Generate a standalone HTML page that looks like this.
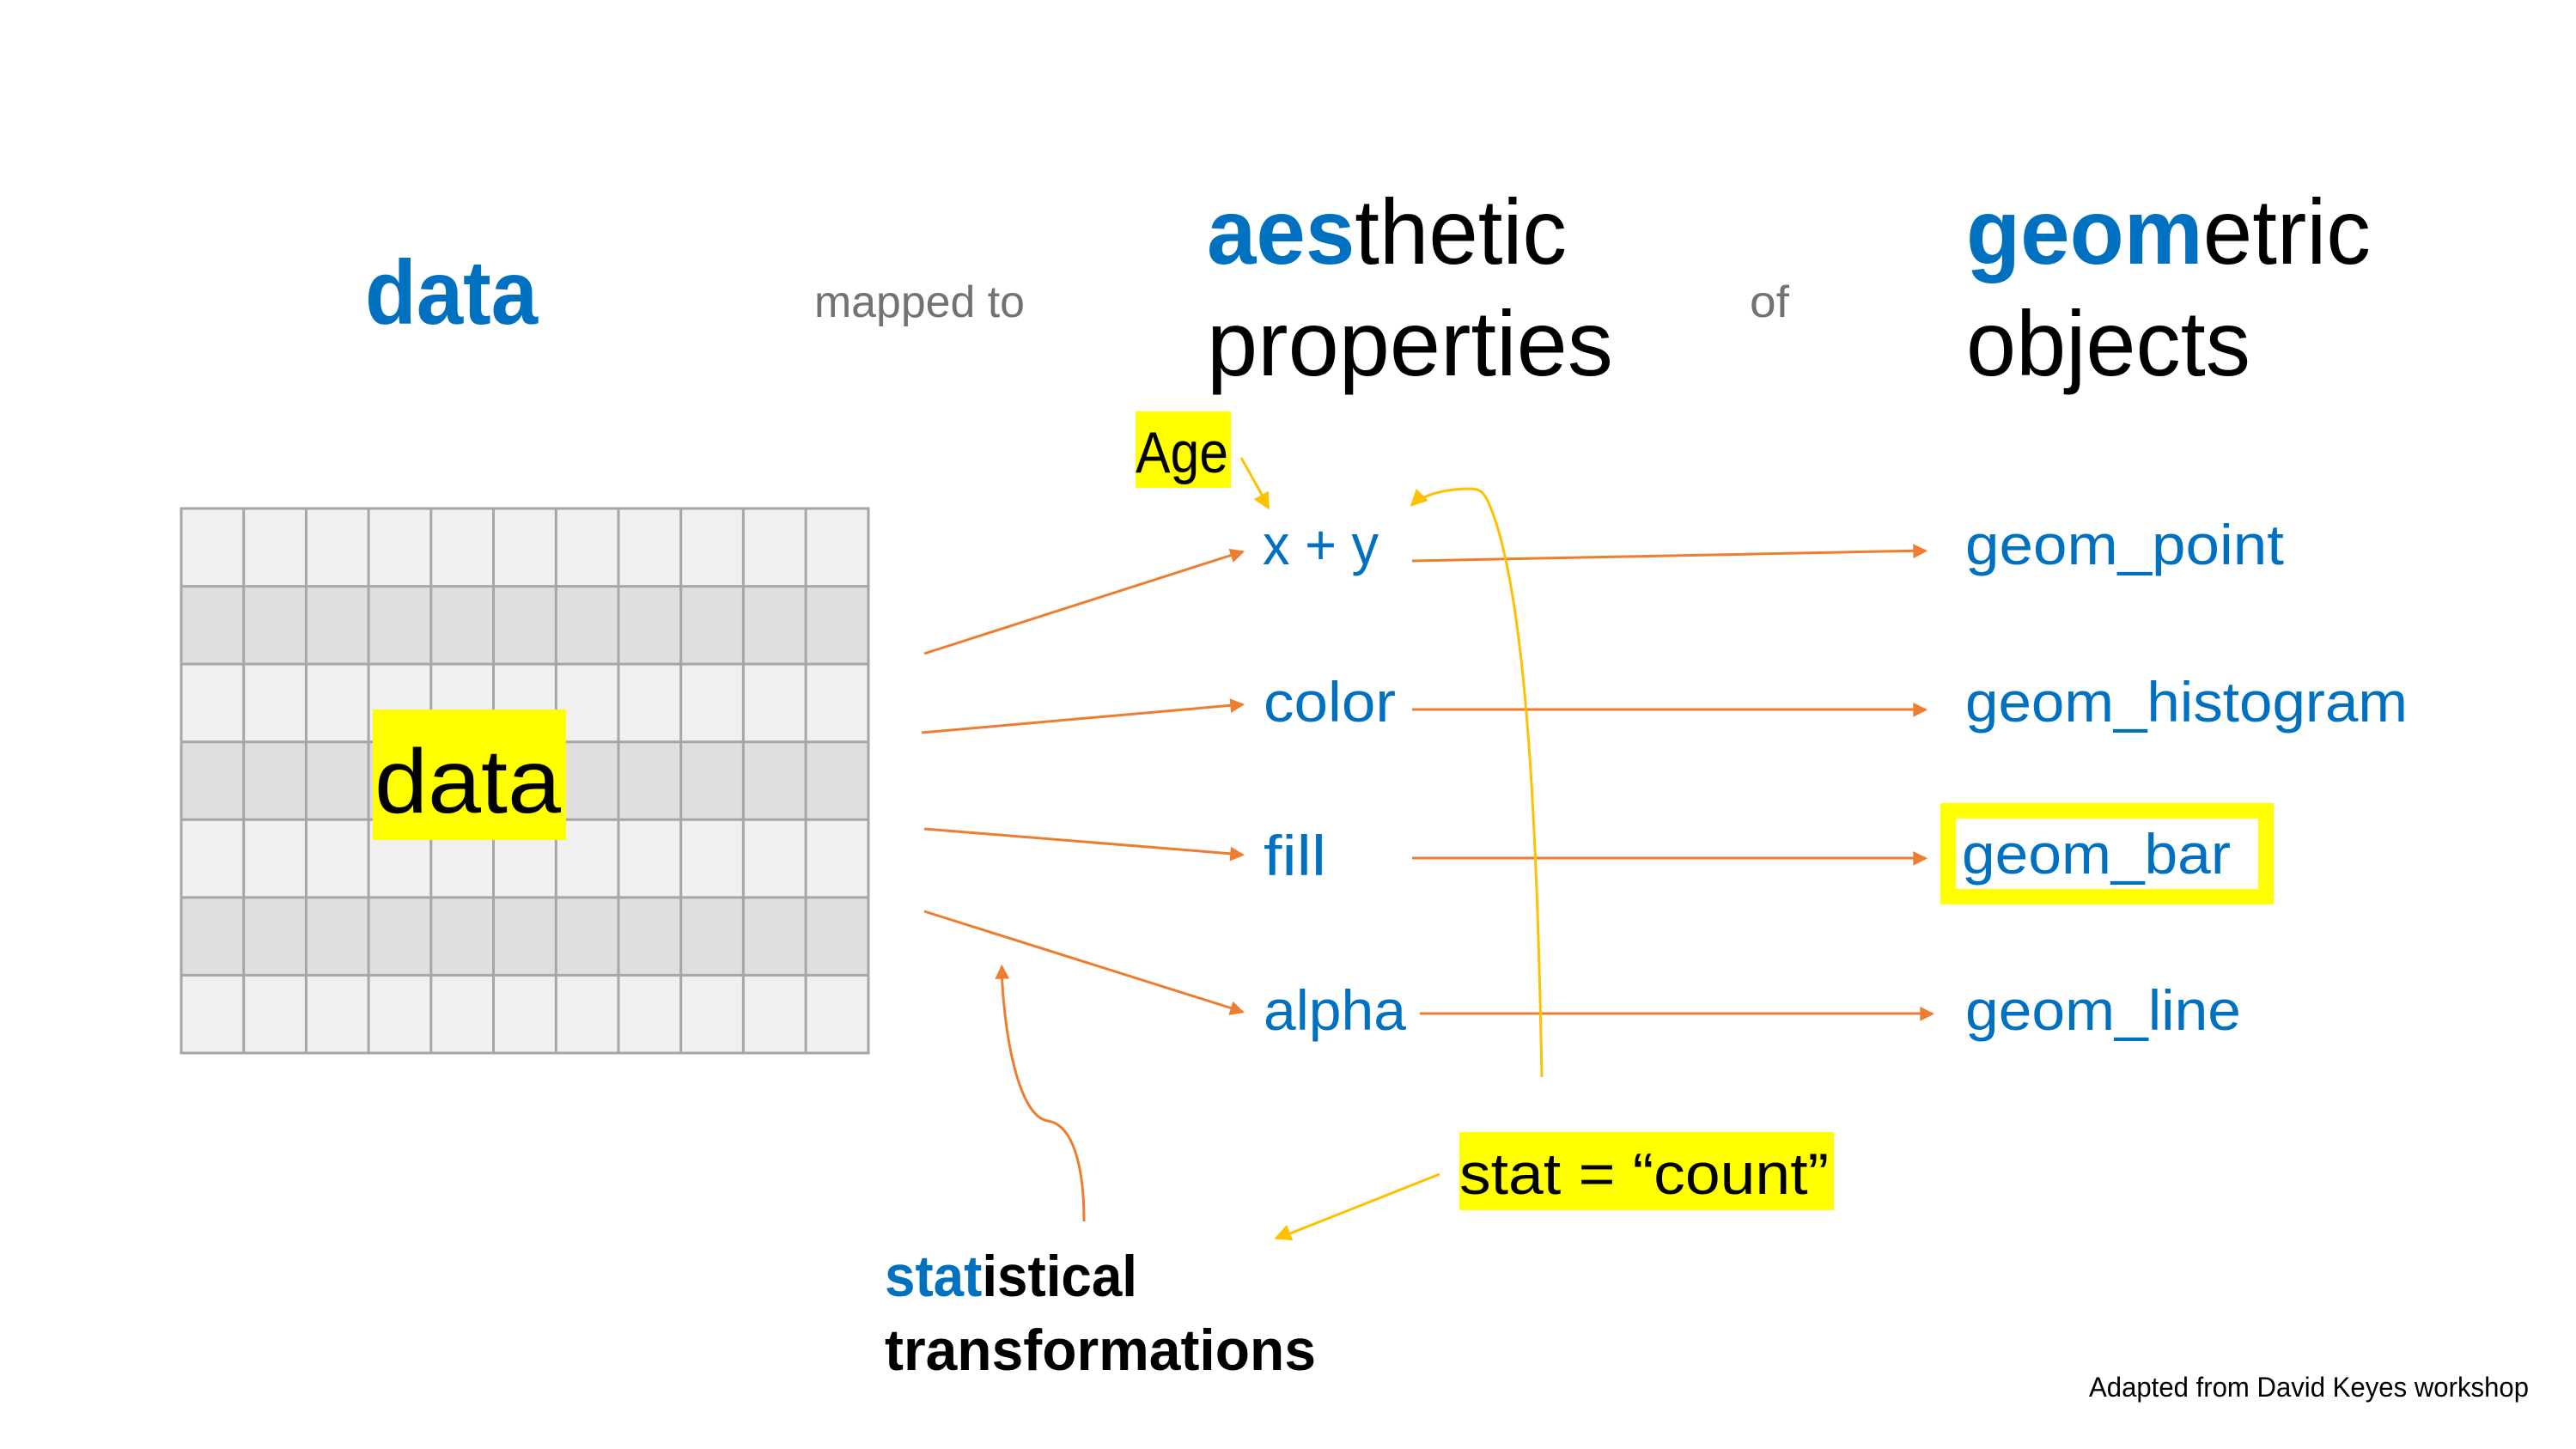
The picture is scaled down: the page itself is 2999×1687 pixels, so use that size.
<!DOCTYPE html>
<html><head><meta charset="utf-8"><style>
html,body{margin:0;padding:0;background:#fff}
svg{display:block}
text{font-family:"Liberation Sans",sans-serif}
</style></head><body>
<svg width="2999" height="1687" viewBox="0 0 2999 1687" xmlns="http://www.w3.org/2000/svg">
<defs>
<marker id="ao" viewBox="0 0 10 10" refX="9" refY="5" markerWidth="7" markerHeight="7" orient="auto" markerUnits="userSpaceOnUse" style="overflow:visible">
<path d="M0,0 L10,5 L0,10 z" fill="#ED7D31" transform="scale(2.4) translate(-5,-2.7)"/></marker>
<marker id="ay" viewBox="0 0 10 10" refX="9" refY="5" markerWidth="7" markerHeight="7" orient="auto" markerUnits="userSpaceOnUse" style="overflow:visible">
<path d="M0,0 L10,5 L0,10 z" fill="#FFC000" transform="scale(2.8) translate(-5,-2.7)"/></marker>
</defs>

<text x="425" y="377" font-size="106" font-weight="bold" fill="#0070C0" textLength="201" lengthAdjust="spacingAndGlyphs">data</text>
<text x="948" y="369" font-size="52" fill="#767171" textLength="245" lengthAdjust="spacingAndGlyphs">mapped to</text>
<text x="1405" y="307" font-size="108" textLength="419" lengthAdjust="spacingAndGlyphs"><tspan font-weight="bold" fill="#0070C0">aes</tspan><tspan fill="#000">thetic</tspan></text>
<text x="1405" y="437" font-size="108" fill="#000" textLength="473" lengthAdjust="spacingAndGlyphs">properties</text>
<text x="2037" y="369" font-size="52" fill="#767171" textLength="46" lengthAdjust="spacingAndGlyphs">of</text>
<text x="2289" y="307" font-size="108" textLength="471" lengthAdjust="spacingAndGlyphs"><tspan font-weight="bold" fill="#0070C0">geom</tspan><tspan fill="#000">etric</tspan></text>
<text x="2289" y="437" font-size="108" fill="#000" textLength="331" lengthAdjust="spacingAndGlyphs">objects</text>

<g>
<rect x="211" y="592" width="800" height="634" fill="#F0F0F0"/>
<rect x="211" y="682.6" width="800" height="90.6" fill="#DFDFDF"/>
<rect x="211" y="863.7" width="800" height="90.6" fill="#DFDFDF"/>
<rect x="211" y="1044.9" width="800" height="90.6" fill="#DFDFDF"/>
<g stroke="#A6A6A6" stroke-width="3" fill="none">
<rect x="211" y="592" width="800" height="634"/>
<path d="M283.7,592V1226M356.4,592V1226M429.1,592V1226M501.8,592V1226M574.5,592V1226M647.3,592V1226M720,592V1226M792.7,592V1226M865.4,592V1226M938.1,592V1226"/>
<path d="M211,682.6H1011M211,773.1H1011M211,863.7H1011M211,954.3H1011M211,1044.9H1011M211,1135.4H1011"/>
</g>
</g>
<rect x="434" y="826" width="225" height="152" fill="#FFFF00"/>
<text x="436" y="946" font-size="106" fill="#000" textLength="217" lengthAdjust="spacingAndGlyphs">data</text>

<rect x="1322" y="479" width="111" height="89" fill="#FFFF00"/>
<text x="1322" y="550" font-size="68" fill="#000" textLength="108" lengthAdjust="spacingAndGlyphs">Age</text>

<g font-size="66" fill="#0070C0">
<text x="1470" y="657" textLength="135" lengthAdjust="spacingAndGlyphs">x + y</text>
<text x="1471" y="840" textLength="154" lengthAdjust="spacingAndGlyphs">color</text>
<text x="1471" y="1019" textLength="73" lengthAdjust="spacingAndGlyphs">fill</text>
<text x="1471" y="1199" textLength="166" lengthAdjust="spacingAndGlyphs">alpha</text>
<text x="2288" y="657" textLength="371" lengthAdjust="spacingAndGlyphs">geom_point</text>
<text x="2288" y="840" textLength="515" lengthAdjust="spacingAndGlyphs">geom_histogram</text>
<text x="2284" y="1017" textLength="313" lengthAdjust="spacingAndGlyphs">geom_bar</text>
<text x="2288" y="1199" textLength="321" lengthAdjust="spacingAndGlyphs">geom_line</text>
</g>
<rect x="2268" y="944" width="370" height="100" fill="none" stroke="#FFFF00" stroke-width="18"/>

<g stroke="#ED7D31" stroke-width="3" fill="none">
<line x1="1076" y1="761" x2="1447" y2="642" marker-end="url(#ao)"/>
<line x1="1073" y1="853" x2="1447" y2="820" marker-end="url(#ao)"/>
<line x1="1076" y1="965" x2="1447" y2="995" marker-end="url(#ao)"/>
<line x1="1076" y1="1061" x2="1447" y2="1178" marker-end="url(#ao)"/>
<line x1="1644" y1="653" x2="2242" y2="641" marker-end="url(#ao)"/>
<line x1="1644" y1="826" x2="2242" y2="826" marker-end="url(#ao)"/>
<line x1="1644" y1="999" x2="2242" y2="999" marker-end="url(#ao)"/>
<line x1="1653" y1="1180" x2="2250" y2="1180" marker-end="url(#ao)"/>
<path d="M1262,1422 C1262,1360 1250,1310 1220,1305 C1185,1300 1168,1200 1166,1125" marker-end="url(#ao)"/>
</g>

<g stroke="#FFC000" stroke-width="3" fill="none">
<line x1="1445" y1="533" x2="1477" y2="590" marker-end="url(#ay)"/>
<path d="M1795,1254 C1790,1000 1780,700 1735,590 C1728,572 1722,569 1712,569 C1690,569 1660,573 1645,588" marker-end="url(#ay)"/>
<line x1="1676" y1="1367" x2="1487" y2="1442" marker-end="url(#ay)"/>
</g>

<rect x="1699" y="1318" width="436" height="91" fill="#FFFF00"/>
<text x="1699" y="1390" font-size="68" fill="#000" textLength="430" lengthAdjust="spacingAndGlyphs">stat =  “count”</text>

<text x="1030" y="1509" font-size="68" font-weight="bold" textLength="294" lengthAdjust="spacingAndGlyphs"><tspan fill="#0070C0">stat</tspan><tspan fill="#000">istical</tspan></text>
<text x="1030" y="1595" font-size="68" font-weight="bold" fill="#000" textLength="502" lengthAdjust="spacingAndGlyphs">transformations</text>

<text x="2432" y="1626" font-size="32" fill="#000" textLength="512" lengthAdjust="spacingAndGlyphs">Adapted from David Keyes workshop</text>
</svg>
</body></html>
